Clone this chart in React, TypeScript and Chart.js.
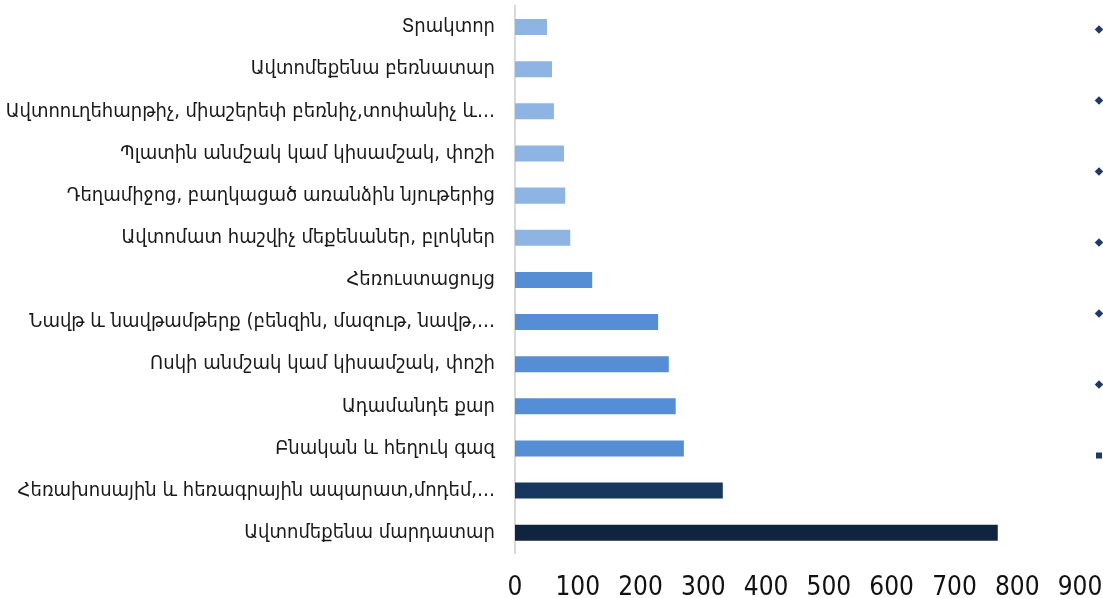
import React, { useEffect, useRef } from 'react';
import { Chart, registerables } from 'chart.js';

Chart.register(...registerables);

const categories: string[] = [
  'Տրակտոր',
  'Ավտոմեքենա բեռնատար',
  'Ավտոուղեհարթիչ, միաշերեփ բեռնիչ,տոփանիչ և…',
  'Պլատին անմշակ կամ կիսամշակ, փոշի',
  'Դեղամիջոց, բաղկացած առանձին նյութերից',
  'Ավտոմատ հաշվիչ մեքենաներ, բլոկներ',
  'Հեռուստացույց',
  'Նավթ և նավթամթերք (բենզին, մազութ, նավթ,…',
  'Ոսկի անմշակ կամ կիսամշակ, փոշի',
  'Ադամանդե քար',
  'Բնական և հեղուկ գազ',
  'Հեռախոսային և հեռագրային ապարատ,մոդեմ,…',
  'Ավտոմեքենա մարդատար',
];

const values: number[] = [51, 59, 62, 78, 80, 88, 123, 228, 245, 256, 269, 331, 769];

const barColors: string[] = [
  '#8EB4E3', '#8EB4E3', '#8EB4E3', '#8EB4E3', '#8EB4E3', '#8EB4E3',
  '#558ED5', '#558ED5', '#558ED5', '#558ED5', '#558ED5',
  '#17375E',
  '#10243F',
];

const xMin = 0;
const xMax = 900;
const xStep = 100;

const markerStyles: string[] = ['rectRot', 'rectRot', 'rectRot', 'rectRot', 'rectRot', 'rectRot', 'rect'];
const markerColor = '#1F3864';

const labelFont = "'DejaVu Sans Condensed', 'DejaVu Sans', sans-serif";
const tickFont = "'DejaVu Sans Condensed', 'DejaVu Sans', sans-serif";

export default function App() {
  const mainRef = useRef<HTMLCanvasElement | null>(null);
  const markRef = useRef<HTMLCanvasElement | null>(null);

  useEffect(() => {
    if (!mainRef.current || !markRef.current) return;
    const main = new Chart(mainRef.current, {
      type: 'bar',
      data: {
        labels: categories,
        datasets: [
          {
            data: values,
            backgroundColor: barColors,
            barPercentage: 0.38,
            categoryPercentage: 1,
          },
        ],
      },
      options: {
        indexAxis: 'y',
        responsive: false,
        animation: false,
        events: [],
        layout: { padding: { top: 6, left: 0, right: 23, bottom: -25 } },
        plugins: {
          legend: { display: false },
          tooltip: { enabled: false },
        },
        scales: {
          x: {
            min: xMin,
            max: xMax,
            grid: { display: false, drawTicks: false },
            border: { display: false },
            ticks: {
              stepSize: xStep,
              padding: 19,
              color: '#111111',
              font: { family: tickFont, size: 26 },
            },
            afterFit: (scale: any) => {
              scale.paddingLeft = 0;
              scale.paddingRight = 0;
            },
          },
          y: {
            grid: { display: false, drawTicks: false },
            border: { display: true, color: '#D9D9D9', width: 2 },
            ticks: {
              padding: 20,
              color: '#1a1a1a',
              font: { family: labelFont, size: 20 },
            },
            afterFit: (scale: any) => {
              scale.width = 515;
              scale.paddingTop = 0;
              scale.paddingBottom = 0;
            },
          },
        },
      },
    } as any);

    const marks = new Chart(markRef.current, {
      type: 'bar',
      data: { labels: [], datasets: [] },
      options: {
        responsive: false,
        animation: false,
        events: [],
        scales: { x: { display: false }, y: { display: false } },
        plugins: {
          tooltip: { enabled: false },
          legend: {
            position: 'left',
            align: 'start',
            labels: {
              usePointStyle: true,
              boxWidth: 6,
              boxHeight: 6,
              padding: 10,
              font: { size: 61 },
              generateLabels: () =>
                markerStyles.map((s) => ({
                  text: '',
                  pointStyle: s,
                  fillStyle: markerColor,
                  strokeStyle: markerColor,
                  lineWidth: 0,
                  hidden: false,
                })),
            },
          },
        },
      },
    } as any);

    return () => {
      main.destroy();
      marks.destroy();
    };
  }, []);

  return (
    <div
      style={{
        position: 'fixed',
        left: 0,
        top: 0,
        width: 1103,
        height: 598,
        overflow: 'hidden',
        background: '#ffffff',
      }}
    >
      <canvas
        ref={mainRef}
        width={1103}
        height={598}
        style={{ position: 'absolute', left: 0, top: 0, width: 1103, height: 598 }}
      />
      <canvas
        ref={markRef}
        width={160}
        height={609}
        style={{ position: 'absolute', left: 1086, top: -11, width: 160, height: 609 }}
      />
    </div>
  );
}
